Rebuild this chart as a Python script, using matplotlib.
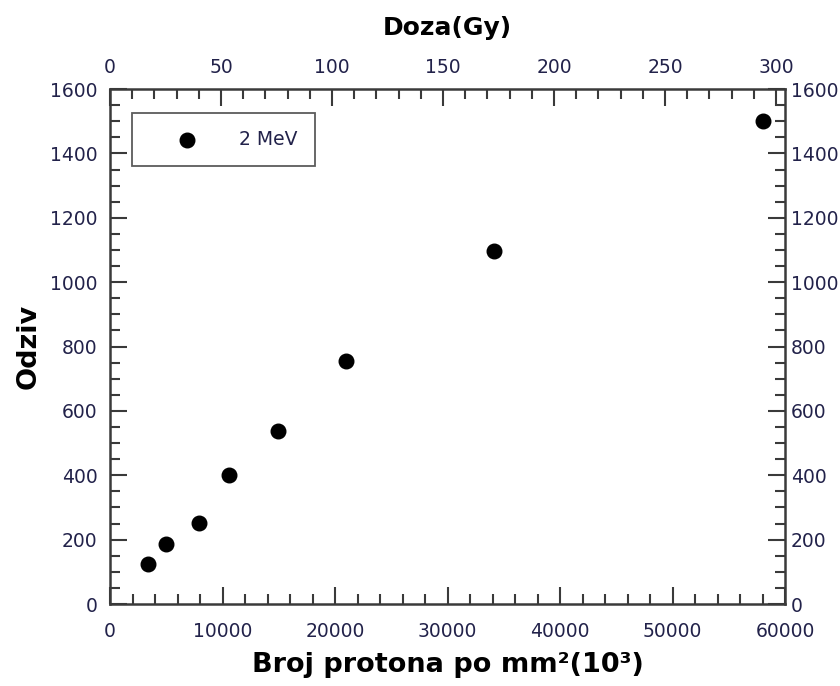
import matplotlib.pyplot as plt
import numpy as np

# proton fluence (10^3 per mm^2) and detector response, 2 MeV
protons = [3400, 5000, 7900, 10600, 14900, 21000, 34100, 58000]
odziv = [124, 186, 252, 401, 537, 755, 1097, 1500]
series_label = "2 MeV"

x_ticks = np.arange(0, 60001, 10000)
y_ticks = np.arange(0, 1601, 200)
dose_ticks = np.arange(0, 301, 50)

tick_color = "#22224a"
spine_color = "#3a3a3a"

fig = plt.figure(figsize=(8.4, 6.86), dpi=100)
ax = fig.add_axes([0.131, 0.1195, 0.8036, 0.7507])

ax.scatter(protons, odziv, s=110, color="black", zorder=3, label=series_label)

ax.set_xlim(0, 60000)
ax.set_ylim(0, 1600)
ax.set_xticks(x_ticks)
ax.set_yticks(y_ticks)
ax.set_xticks(np.arange(0, 60001, 2000), minor=True)
ax.set_yticks(np.arange(0, 1601, 50), minor=True)

ax.tick_params(which="both", direction="in", color=spine_color, width=1.5,
               labelsize=13.5, labelcolor=tick_color)
ax.tick_params(which="major", length=12)
ax.tick_params(which="minor", length=7)
ax.tick_params(axis="x", pad=13)
ax.tick_params(axis="y", pad=9)

for s in ax.spines.values():
    s.set_color(spine_color)
    s.set_linewidth(1.8)

ax.set_xlabel("Broj protona po mm²(10³)", fontsize=19.5, fontweight="bold", labelpad=8)
ax.set_ylabel("Odziv", fontsize=19.5, fontweight="bold", labelpad=6)

# right axis, same response scale
rax = ax.twinx()
rax.set_ylim(0, 1600)
rax.set_yticks(y_ticks)
rax.set_yticks(np.arange(0, 1601, 50), minor=True)
rax.tick_params(which="both", direction="in", color=spine_color, width=1.5,
                labelsize=13.5, labelcolor=tick_color, pad=4)
rax.tick_params(which="major", length=12)
rax.tick_params(which="minor", length=7)
for s in rax.spines.values():
    s.set_visible(False)

# top axis with dose in Gy
top = ax.twiny()
top.set_xlim(0, 300 * 675 / 666)
top.set_xticks(dose_ticks)
top.set_xticks(np.arange(0, 301, 10), minor=True)
top.tick_params(which="both", direction="in", color=spine_color, width=1.5,
                labelsize=13.5, labelcolor=tick_color, pad=9)
top.tick_params(which="major", length=12)
top.tick_params(which="minor", length=7)
top.set_xlabel("Doza(Gy)", fontsize=18, fontweight="bold", labelpad=16)
for s in top.spines.values():
    s.set_visible(False)

leg = ax.legend(loc="upper left", bbox_to_anchor=(0.033, 0.953), fontsize=13.5,
                frameon=True, fancybox=False, edgecolor="#333333",
                borderpad=0.9, handlelength=4.0, handletextpad=0.8,
                borderaxespad=0, scatterpoints=1)
leg.get_frame().set_linewidth(1.3)
for t in leg.get_texts():
    t.set_color(tick_color)

fig.savefig("out.png", dpi=100)
